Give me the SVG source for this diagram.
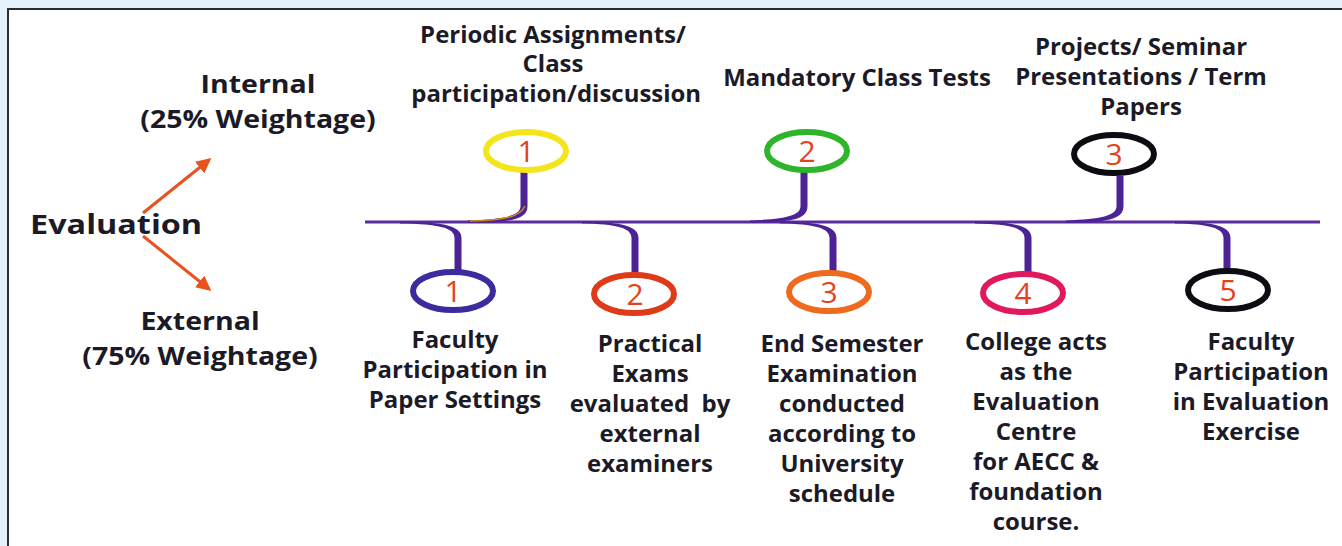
<svg xmlns="http://www.w3.org/2000/svg" width="1342" height="546" viewBox="0 0 1342 546">
<defs>
<style>
.t{font-family:"Open Sans","Liberation Sans",sans-serif;font-weight:bold;fill:#1b1a26;text-anchor:middle}
.lb{font-size:22.5px}
.hd{font-size:25px}
.num{font-family:"Open Sans","Liberation Sans",sans-serif;font-size:30px;fill:#e5421c;text-anchor:middle}
.ring{fill:none;stroke-width:6}
.stem{fill:#4c2296}
.arr{stroke:#e8521e;stroke-width:3;fill:none}
</style>
<marker id="ah" viewBox="0 0 10 10" refX="8" refY="5" markerWidth="5" markerHeight="5" orient="auto" markerUnits="strokeWidth">
<path d="M0,0 L10,5 L0,10 z" fill="#e8521e"/>
</marker>
</defs>
<rect x="0" y="0" width="1342" height="546" fill="#e5f2fb"/>
<rect x="8" y="9" width="1345" height="550" fill="#ffffff" stroke="#2e2e2e" stroke-width="2"/>

<g id="connectors">
<line x1="365" y1="222" x2="1320" y2="222" stroke="#5a2c9c" stroke-width="3"/>
<path class="arr" d="M143,213 L209,160" marker-end="url(#ah)"/>
<path class="arr" d="M143,236 L209,289" marker-end="url(#ah)"/>
<path class="stem" d="M520.5,172 V206 C520.5,216 505,219 468,220.5 L468,222.5 C510,222.5 527.5,220 527.5,206 V172 Z"/>
<path d="M470,221 C505,220 520,217 525,206" fill="none" stroke="#d08a1e" stroke-width="1.5"/>
<path class="stem" d="M800.5,172 V206 C800.5,216 785,219 750,220.5 L750,222.5 C790,222.5 807.5,220 807.5,206 V172 Z"/>
<path class="stem" d="M1116.5,176 V206 C1116.5,216 1101,219 1066,220.5 L1066,222.5 C1106,222.5 1123.5,220 1123.5,206 V176 Z"/>
<path class="stem" d="M400,221.5 C445,222 461.5,226 461.5,238 V270 L454.5,270 V238 C454.5,228 440,224 400,223.5 Z"/>
<path class="stem" d="M582,221.5 C622,222 638.5,226 638.5,238 V274 L631.5,274 V238 C631.5,228 617,224 582,223.5 Z"/>
<path class="stem" d="M780,221.5 C820,222 836.5,226 836.5,238 V272 L829.5,272 V238 C829.5,228 815,224 780,223.5 Z"/>
<path class="stem" d="M975,221.5 C1015,222 1031.5,226 1031.5,238 V272 L1024.5,272 V238 C1024.5,228 1010,224 975,223.5 Z"/>
<path class="stem" d="M1175,221.5 C1214,222 1230.5,226 1230.5,238 V270 L1223.5,270 V238 C1223.5,228 1209,224 1175,223.5 Z"/>
</g>

<g id="evaluation" transform="translate(30,0) scale(1.2,1)"><text class="t" x="0" y="234" style="font-size:27px;text-anchor:start">Evaluation</text></g>
<g id="internal" transform="translate(258,0) scale(1.14,1)"><text class="t hd" x="0" y="93">Internal</text><text class="t hd" x="0" y="128">(25% Weightage)</text></g>
<g id="external" transform="translate(200,0) scale(1.14,1)"><text class="t hd" x="0" y="330">External</text><text class="t hd" x="0" y="365">(75% Weightage)</text></g>

<g id="int1">
<ellipse class="ring" cx="526" cy="151" rx="40" ry="19" stroke="#f4e41c"/>
<text class="num" x="526" y="162">1</text>
<g transform="translate(553,0) scale(1.065,1)">
<text class="t lb" x="0" y="43">Periodic Assignments/</text>
<text class="t lb" x="0" y="72">Class</text>
<text class="t lb" x="3" y="102">participation/discussion</text>
</g>
</g>
<g id="int2">
<ellipse class="ring" cx="807" cy="151" rx="40" ry="19" stroke="#2fb52c"/>
<text class="num" x="807" y="162">2</text>
<g transform="translate(857,0) scale(1.065,1)"><text class="t lb" x="0" y="86">Mandatory Class Tests</text></g>
</g>
<g id="int3">
<ellipse class="ring" cx="1114" cy="154" rx="40" ry="19" stroke="#0d0c12"/>
<text class="num" x="1114" y="165">3</text>
<g transform="translate(1141,0) scale(1.065,1)">
<text class="t lb" x="0" y="55">Projects/ Seminar</text>
<text class="t lb" x="0" y="85">Presentations / Term</text>
<text class="t lb" x="0" y="115">Papers</text>
</g>
</g>

<g id="ext1">
<ellipse class="ring" cx="453" cy="291" rx="40" ry="19" stroke="#3a2c9e"/>
<text class="num" x="453" y="302">1</text>
<g transform="translate(455,0) scale(1.065,1)">
<text class="t lb" x="0" y="348">Faculty</text>
<text class="t lb" x="0" y="378">Participation in</text>
<text class="t lb" x="0" y="408">Paper Settings</text>
</g>
</g>
<g id="ext2">
<ellipse class="ring" cx="634" cy="294" rx="40" ry="19" stroke="#e03b18"/>
<text class="num" x="635" y="305">2</text>
<g transform="translate(650,0) scale(1.065,1)">
<text class="t lb" x="0" y="352">Practical</text>
<text class="t lb" x="0" y="382">Exams</text>
<text class="t lb" x="0" y="412" xml:space="preserve">evaluated  by</text>
<text class="t lb" x="0" y="442">external</text>
<text class="t lb" x="0" y="472">examiners</text>
</g>
</g>
<g id="ext3">
<ellipse class="ring" cx="829" cy="292" rx="40" ry="19" stroke="#ee6a1e"/>
<text class="num" x="829" y="303">3</text>
<g transform="translate(842,0) scale(1.065,1)">
<text class="t lb" x="0" y="352">End Semester</text>
<text class="t lb" x="0" y="382">Examination</text>
<text class="t lb" x="0" y="412">conducted</text>
<text class="t lb" x="0" y="442">according to</text>
<text class="t lb" x="0" y="472">University</text>
<text class="t lb" x="0" y="502">schedule</text>
</g>
</g>
<g id="ext4">
<ellipse class="ring" cx="1023" cy="293" rx="40" ry="19" stroke="#e2185e"/>
<text class="num" x="1023" y="304">4</text>
<g transform="translate(1036,0) scale(1.065,1)">
<text class="t lb" x="0" y="350">College acts</text>
<text class="t lb" x="0" y="380">as the</text>
<text class="t lb" x="0" y="410">Evaluation</text>
<text class="t lb" x="0" y="440">Centre</text>
<text class="t lb" x="0" y="470">for AECC &amp;</text>
<text class="t lb" x="0" y="500">foundation</text>
<text class="t lb" x="0" y="530">course.</text>
</g>
</g>
<g id="ext5">
<ellipse class="ring" cx="1228" cy="290" rx="40" ry="19" stroke="#0d0c12"/>
<text class="num" x="1228" y="301">5</text>
<g transform="translate(1251,0) scale(1.065,1)">
<text class="t lb" x="0" y="350">Faculty</text>
<text class="t lb" x="0" y="380">Participation</text>
<text class="t lb" x="0" y="410">in Evaluation</text>
<text class="t lb" x="0" y="440">Exercise</text>
</g>
</g>
</svg>
